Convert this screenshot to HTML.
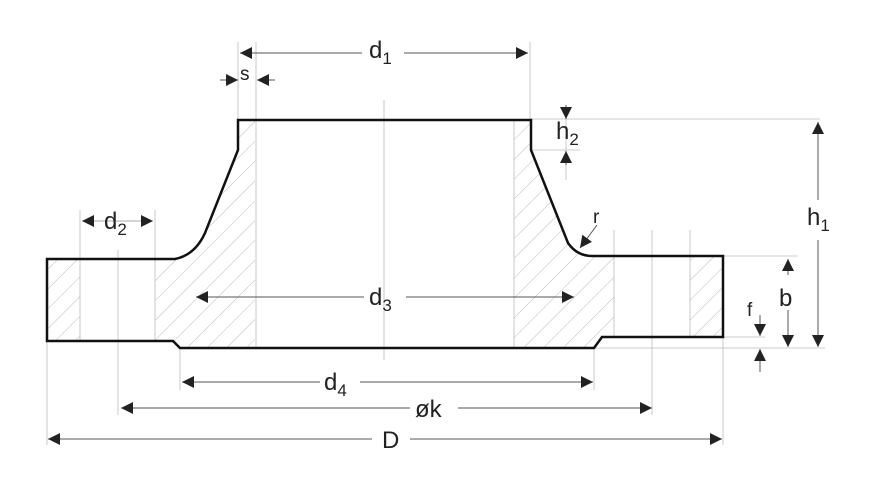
<!DOCTYPE html>
<html><head><style>
html,body{margin:0;padding:0;background:#fff;width:890px;height:490px;overflow:hidden}
svg{display:block}
text{font-family:"Liberation Sans",sans-serif;fill:#222}
</style></head><body>
<svg width="890" height="490" viewBox="0 0 890 490" xmlns="http://www.w3.org/2000/svg">
<defs>
<pattern id="h" patternUnits="userSpaceOnUse" width="14" height="14" patternTransform="rotate(45)">
<line x1="0" y1="0" x2="0" y2="14" stroke="#aaa" stroke-width="0.8"/>
</pattern>
<marker id="a" viewBox="0 0 10 10" refX="10" refY="5" markerWidth="14" markerHeight="12" markerUnits="userSpaceOnUse" orient="auto-start-reverse">
<path d="M0,0 L10,5 L0,10 z" fill="#222"/>
</marker>
</defs>
<g fill="url(#h)">
<rect x="47" y="259" width="33" height="82"/>
<path d="M155,259 L175,259 Q195,255 205,233 L238,150 L238,120 L255,120 L255,348 L180,348 L173,341 L155,341 z"/>
<path d="M514,120 L531,120 L531,150 L568,243 Q577,256 592,256 L614,256 L614,337 L602,337 L594,348 L514,348 z"/>
<rect x="690" y="256" width="33" height="81"/>
</g>
<g stroke="#bbb" stroke-width="0.8" fill="none">
<line x1="238" y1="42" x2="238" y2="120"/>
<line x1="256" y1="42" x2="256" y2="348"/>
<line x1="530" y1="42" x2="530" y2="120"/>
<line x1="514" y1="120" x2="514" y2="348"/>
<line x1="384" y1="100" x2="384" y2="360"/>
<line x1="80" y1="210" x2="80" y2="341"/>
<line x1="118" y1="250" x2="118" y2="415"/>
<line x1="155" y1="210" x2="155" y2="341"/>
<line x1="614" y1="230" x2="614" y2="337"/>
<line x1="652" y1="230" x2="652" y2="415"/>
<line x1="690" y1="230" x2="690" y2="337"/>
<line x1="47" y1="341" x2="47" y2="445"/>
<line x1="180" y1="348" x2="180" y2="390"/>
<line x1="594" y1="348" x2="594" y2="390"/>
<line x1="723" y1="337" x2="723" y2="445"/>
<line x1="531" y1="119" x2="820" y2="119"/>
<line x1="531" y1="150" x2="580" y2="150"/>
<line x1="723" y1="256" x2="798" y2="256"/>
<line x1="594" y1="348" x2="825" y2="348"/>
<line x1="723" y1="337" x2="765" y2="337"/>
<line x1="566" y1="108" x2="566" y2="180"/>
</g>
<path d="M47,259 L175,259 Q195,255 205,233 L238,150 L238,120 L531,120 L531,150 L568,243 Q577,256 592,256 L723,256 L723,337 L602,337 L594,348 L180,348 L173,341 L47,341 z" fill="none" stroke="#111" stroke-width="2.5"/>
<g stroke="#555" stroke-width="1" fill="none">
<line x1="240" y1="53" x2="362" y2="53" marker-start="url(#a)"/>
<line x1="404" y1="53" x2="528" y2="53" marker-end="url(#a)"/>
<line x1="220" y1="80" x2="238" y2="80" marker-end="url(#a)"/>
<line x1="275" y1="80" x2="257" y2="80" marker-end="url(#a)"/>
<line x1="566" y1="105" x2="566" y2="119" marker-end="url(#a)"/>
<line x1="566" y1="165" x2="566" y2="151" marker-end="url(#a)"/>
<line x1="818" y1="122" x2="818" y2="200" marker-start="url(#a)"/>
<line x1="818" y1="240" x2="818" y2="347" marker-end="url(#a)"/>
<line x1="788" y1="259" x2="788" y2="275" marker-start="url(#a)"/>
<line x1="788" y1="310" x2="788" y2="347" marker-end="url(#a)"/>
<line x1="760" y1="315" x2="760" y2="336" marker-end="url(#a)"/>
<line x1="760" y1="372" x2="760" y2="349" marker-end="url(#a)"/>
<line x1="82" y1="221" x2="153" y2="221" marker-start="url(#a)" marker-end="url(#a)" stroke="#aaa"/>
<line x1="196" y1="297" x2="364" y2="297" marker-start="url(#a)"/>
<line x1="406" y1="297" x2="574" y2="297" marker-end="url(#a)"/>
<line x1="182" y1="382" x2="320" y2="382" marker-start="url(#a)"/>
<line x1="360" y1="382" x2="593" y2="382" marker-end="url(#a)"/>
<line x1="121" y1="408" x2="410" y2="408" marker-start="url(#a)"/>
<line x1="458" y1="408" x2="652" y2="408" marker-end="url(#a)"/>
<line x1="48" y1="439" x2="372" y2="439" marker-start="url(#a)"/>
<line x1="410" y1="439" x2="722" y2="439" marker-end="url(#a)"/>
<line x1="597" y1="225" x2="580" y2="248" marker-end="url(#a)"/>
</g>
<g font-size="24">
<text x="369" y="58">d<tspan font-size="17" dy="6">1</tspan></text>
<text x="240" y="80" font-size="19">s</text>
<text x="556" y="139">h<tspan font-size="17" dy="6">2</tspan></text>
<text x="807" y="225">h<tspan font-size="17" dy="6">1</tspan></text>
<text x="779" y="306">b</text>
<text x="747" y="316" font-size="19">f</text>
<text x="593" y="223" font-size="19">r</text>
<text x="104" y="229">d<tspan font-size="17" dy="6">2</tspan></text>
<text x="369" y="305">d<tspan font-size="17" dy="6">3</tspan></text>
<text x="324" y="390">d<tspan font-size="17" dy="6">4</tspan></text>
<text x="415" y="417">øk</text>
<text x="382" y="448">D</text>
</g>
</svg>
</body></html>
